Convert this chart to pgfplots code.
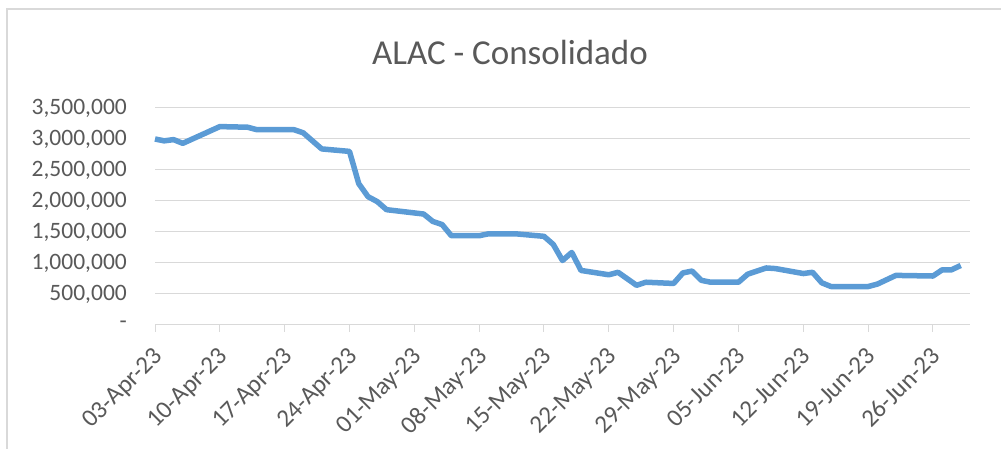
\documentclass[border=0pt]{standalone}
\usepackage{fontspec}
\setmainfont{Carlito}
\usepackage{pgfplots}
\pgfplotsset{compat=1.18}
\definecolor{linecol}{HTML}{5B9BD5}
\definecolor{gridcol}{HTML}{D9D9D9}
\definecolor{txtcol}{HTML}{595959}
\definecolor{bordercol}{HTML}{D9D9D9}
\begin{document}
\begin{tikzpicture}[x=1pt,y=1pt]
\path[use as bounding box] (0,0) rectangle (1001,449);
\draw[bordercol, line width=1.5pt] (7,0) -- (7,440) -- (1001,440);
\node[txtcol, anchor=base, font=\fontsize{35}{42}\selectfont] at (510,384) {ALAC - Consolidado};
\begin{axis}[
  at={(155pt,124pt)}, anchor=south west,
  scale only axis, width=815pt, height=217pt,
  xmin=0, xmax=88, ymin=0, ymax=3500000,
  scaled y ticks=false,
  xtick={0,7,...,84},
  xticklabels={03-Apr-23,10-Apr-23,17-Apr-23,24-Apr-23,01-May-23,08-May-23,15-May-23,22-May-23,29-May-23,05-Jun-23,12-Jun-23,19-Jun-23,26-Jun-23},
  ytick={0,500000,...,3500000},
  yticklabels={{-\hspace{12pt}},{500,000},{1,000,000},{1,500,000},{2,000,000},{2,500,000},{3,000,000},{3,500,000}},
  ymajorgrids, grid style={gridcol, line width=1pt},
  axis x line*=bottom, axis y line*=left,
  x axis line style={gridcol, line width=1pt, -},
  y axis line style={draw=none},
  xtick style={gridcol, line width=1pt},
  ytick style={draw=none},
  tick align=outside, major tick length=7pt,
  ticklabel style={txtcol, font=\fontsize{23.5}{27}\selectfont},
  xticklabel style={font=\fontsize{25}{29}\selectfont, xshift=-3pt, yshift=-12pt, rotate=45, anchor=north east, inner sep=1pt},
  yticklabel style={anchor=east, inner sep=0pt, xshift=-21pt},
  clip=false,
]
\addplot[linecol, line width=5.5pt, line join=round] coordinates {
(0,3000000) (1,2970000) (2,2990000) (3,2930000) (7,3200000) (10,3190000)
(11,3150000) (15,3150000) (16,3100000) (18,2840000) (21,2800000) (22,2280000)
(23,2070000) (24,1990000) (25,1860000) (29,1790000) (30,1670000) (31,1620000)
(32,1440000) (35,1440000) (36,1470000) (39,1470000) (42,1430000) (43,1300000)
(44,1040000) (45,1170000) (46,880000) (49,810000) (50,850000) (52,640000)
(53,690000) (56,670000) (57,840000) (58,870000) (59,720000) (60,690000)
(63,690000) (64,820000) (66,920000) (67,910000) (70,830000) (71,850000)
(72,680000) (73,620000) (77,620000) (78,660000) (79,730000) (80,800000)
(84,790000) (85,890000) (86,890000) (87,960000)
};
\end{axis}
\end{tikzpicture}
\end{document}
